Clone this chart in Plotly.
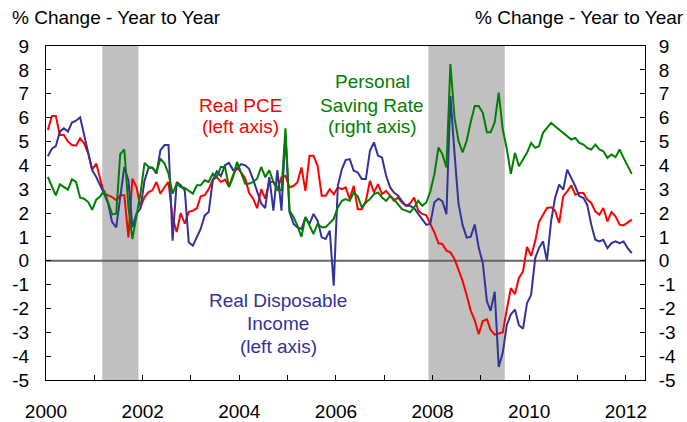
import pandas as pd
import plotly.graph_objects as go

# Monthly observations, Jan 2000 .. Feb 2012
dates = pd.date_range("2000-01-01", periods=146, freq="MS") + pd.Timedelta(days=14)

real_pce = [
    5.48, 6.07, 6.07, 5.27, 5.27, 4.99, 4.85, 4.82, 5.13, 4.92, 4.50, 3.82,
    4.07, 3.37, 2.81, 2.74, 2.67, 2.53, 2.74, 2.74, 0.98, 3.44, 3.09, 2.25,
    2.67, 2.88, 2.95, 3.30, 2.81, 3.09, 3.30, 1.80, 1.20, 2.00, 1.55, 2.05,
    2.10, 2.20, 2.70, 2.75, 3.00, 3.40, 3.50, 3.30, 3.40, 3.10, 3.60, 3.90,
    3.70, 3.45, 2.85, 2.60, 2.20, 3.00, 2.60, 3.30, 3.30, 3.00, 3.50, 3.56,
    3.07, 3.14, 3.28, 3.91, 2.93, 4.40, 4.40, 3.98, 2.72, 2.72, 3.00, 2.79,
    3.07, 3.00, 3.07, 2.58, 3.14, 2.16, 2.16, 2.51, 3.35, 2.86, 3.21, 2.79,
    2.93, 2.72, 2.51, 2.65, 2.44, 2.30, 2.40, 2.65, 2.10, 1.96, 1.90, 1.54,
    1.19, 0.73, 0.70, 0.42, 0.35, 0.07, -0.42, -0.84, -1.45, -2.08, -2.50, -3.08,
    -2.53, -2.46, -2.90, -3.10, -3.05, -3.00, -2.05, -1.15, -1.40, -0.72, -0.45, 0.58,
    0.20, 0.81, 1.62, 1.93, 2.21, 2.24, 2.10, 1.58, 2.70, 2.91, 3.16, 2.77,
    2.84, 2.84, 2.56, 2.42, 2.07, 1.93, 2.21, 1.65, 2.04, 1.86, 1.51, 1.48,
    1.62, 1.72,
]

real_dpi = [
    4.38, 4.70, 4.80, 5.41, 5.55, 5.41, 5.79, 5.87, 6.01, 5.27, 4.56, 3.79,
    3.51, 3.16, 2.81, 2.39, 1.62, 1.40, 2.74, 3.93, 3.37, 1.40, 1.97, 2.18,
    3.37, 3.90, 3.90, 3.65, 4.63, 4.85, 4.85, 0.84, 3.30, 3.16, 2.95, 0.77,
    0.63, 0.98, 1.33, 1.90, 2.04, 3.37, 3.75, 3.55, 4.00, 4.10, 3.80, 3.85,
    4.05, 4.00, 3.85, 3.40, 2.90, 2.40, 2.20, 3.50, 2.10, 3.80, 2.10, 5.30,
    2.03, 1.54, 1.40, 1.33, 1.82, 1.54, 1.96, 1.68, 0.98, 0.91, 1.26, -1.05,
    3.14, 3.84, 4.22, 4.26, 3.77, 3.70, 3.42, 3.42, 4.61, 4.96, 4.40, 4.33,
    3.56, 3.07, 2.86, 2.72, 2.50, 2.30, 2.30, 2.20, 1.96, 1.75, 1.50, 1.55,
    2.45, 2.60, 2.50, 1.95, 6.90, 4.50, 2.40, 1.50, 0.97, 1.00, 1.52, 0.55,
    -0.10, -1.70, -2.10, -1.30, -4.45, -3.85, -2.70, -2.25, -2.05, -2.70, -2.85, -1.78,
    -1.43, 0.11, 0.53, 0.81, 0.00, 1.65, 2.63, 3.19, 2.98, 3.82, 3.47, 3.12,
    2.70, 2.63, 2.35, 1.51, 0.88, 0.81, 0.88, 0.53, 0.74, 0.81, 0.74, 0.81,
    0.53, 0.32,
]

saving_rate = [
    3.51, 3.09, 2.74, 3.20, 3.09, 2.98, 3.41, 3.30, 2.64, 2.60, 2.46, 2.13,
    2.56, 2.70, 2.95, 2.46, 1.94, 1.97, 4.47, 4.66, 2.25, 0.91, 1.83, 2.81,
    4.10, 3.93, 3.90, 3.72, 4.28, 4.07, 3.65, 2.81, 3.23, 3.09, 3.05, 2.95,
    2.81, 3.16, 3.16, 3.37, 3.30, 3.65, 3.50, 3.93, 3.93, 3.09, 3.50, 4.14,
    3.70, 3.23, 3.23, 3.30, 3.44, 3.93, 3.50, 3.79, 3.30, 2.95, 2.95, 5.55,
    2.10, 1.82, 1.47, 1.00, 1.84, 1.47, 1.12, 1.54, 1.40, 1.40, 1.60, 1.75,
    2.23, 2.51, 2.58, 2.51, 2.86, 2.70, 2.23, 2.44, 2.58, 2.79, 2.86, 2.65,
    2.51, 2.72, 2.58, 2.37, 2.16, 2.10, 2.03, 2.23, 2.51, 2.30, 2.44, 2.90,
    3.63, 4.75, 4.47, 3.91, 8.24, 6.00, 5.03, 4.54, 5.03, 5.80, 6.49, 6.49,
    6.20, 5.38, 5.38, 5.80, 7.05, 5.50, 4.70, 3.64, 4.52, 3.96, 4.24, 4.52,
    4.94, 4.73, 4.80, 5.36, 5.57, 5.78, 5.64, 5.50, 5.36, 5.22, 5.08, 5.15,
    4.94, 4.87, 4.73, 4.66, 4.87, 4.66, 4.59, 4.31, 4.45, 4.34, 4.66, 4.31,
    4.00, 3.64,
]

recessions = [("2001-03-01", "2001-11-30"), ("2007-12-01", "2009-06-30")]
y_ticks = list(range(-5, 10))

RED = "#ff0000"
BLUE = "#333399"
GREEN = "#008000"
FONT = "Liberation Sans, Arial, sans-serif"
FS = 19

fig = go.Figure()
fig.add_trace(go.Scatter(x=dates, y=real_pce, mode="lines", line=dict(color=RED, width=2), yaxis="y"))
fig.add_trace(go.Scatter(x=dates, y=real_dpi, mode="lines", line=dict(color=BLUE, width=2), yaxis="y"))
fig.add_trace(go.Scatter(x=dates, y=saving_rate, mode="lines", line=dict(color=GREEN, width=2), yaxis="y2"))

shapes = []
for a, b in recessions:
    shapes.append(dict(type="rect", xref="x", yref="paper", x0=a, x1=b, y0=0, y1=1,
                       fillcolor="#c0c0c0", line=dict(width=0), layer="below"))
shapes.append(dict(type="line", xref="paper", yref="y", x0=0, x1=1, y0=0, y1=0,
                   line=dict(color="#666666", width=2), layer="below"))

axis_common = dict(
    range=[-5, 9], tickvals=y_ticks, ticktext=[str(v) for v in y_ticks],
    ticks="inside", ticklen=5, tickcolor="#000", showline=True, linecolor="#000",
    linewidth=1, showgrid=False, zeroline=False, automargin=False,
    tickfont=dict(family=FONT, size=FS, color="#000"),
)

fig.update_layout(
    width=687, height=422,
    margin=dict(l=46, r=42, t=46, b=42),
    paper_bgcolor="white", plot_bgcolor="white",
    showlegend=False,
    font=dict(family=FONT, size=FS, color="#000"),
    xaxis=dict(
        type="date", range=["2000-01-01", "2012-05-25"],
        dtick="M24", tick0="2000-01-01", tickformat="%Y",
        ticks="inside", ticklen=5, tickcolor="#000",
        minor=dict(dtick="M12", ticks="inside", ticklen=5, tickcolor="#000"),
        showline=True, linecolor="#000", linewidth=1, mirror=True,
        showgrid=False, zeroline=False, ticklabelstandoff=14, automargin=False,
        tickfont=dict(family=FONT, size=FS, color="#000"),
    ),
    yaxis=dict(**axis_common, side="left", ticklabelstandoff=12),
    yaxis2=dict(**axis_common, side="right", overlaying="y", ticklabelstandoff=9),
    shapes=shapes,
)

def px_x(px):
    return (px - 46) / 599.0

def px_y(py):
    return (380 - py) / 334.0

labels = [
    ("% Change - Year to Year", 10, 17, "left", "#000"),
    ("% Change - Year to Year", 686, 17, "right", "#000"),
    ("Real PCE", 240, 105, "center", RED),
    ("(left axis)", 240, 127, "center", RED),
    ("Personal", 372, 81, "center", GREEN),
    ("Saving Rate", 372, 105, "center", GREEN),
    ("(right axis)", 372, 127, "center", GREEN),
    ("Real Disposable", 278, 300, "center", BLUE),
    ("Income", 278, 323, "center", BLUE),
    ("(left axis)", 278, 346, "center", BLUE),
]
for text, px, py, anchor, color in labels:
    fig.add_annotation(text=text, x=px_x(px), y=px_y(py), xref="paper", yref="paper",
                       xanchor=anchor, yanchor="middle", showarrow=False,
                       font=dict(family=FONT, size=FS, color=color))

fig.write_html("out.html", config={"displayModeBar": False},
               post_script="document.body.style.margin='0';document.body.style.overflow='hidden';")
